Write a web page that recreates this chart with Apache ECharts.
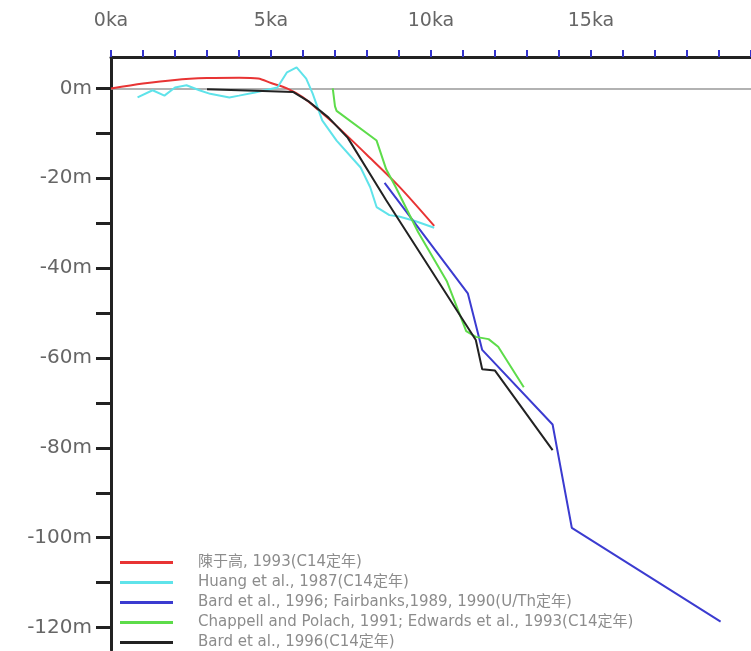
<!DOCTYPE html>
<html>
<head>
<meta charset="utf-8">
<script src="https://cdn.jsdelivr.net/npm/echarts@6/dist/echarts.min.js"></script>
<style>
  html, body { margin: 0; padding: 0; background: #fff; }
  #chart { width: 751px; height: 651px; }
</style>
</head>
<body>
<div id="chart"></div>
<script>
// 海平面变化曲线 (ka, m)
var seriesNames = [
  "陳于高, 1993(C14定年)",
  "Huang et al., 1987(C14定年)",
  "Bard et al., 1996; Fairbanks,1989, 1990(U/Th定年)",
  "Chappell and Polach, 1991; Edwards et al., 1993(C14定年)",
  "Bard et al., 1996(C14定年)"
];
var seriesColors = ["#e83434", "#5fe3ea", "#3b3bd0", "#5ddc4a", "#222222"];

var chenData = [[0, 0], [1, 1.1], [2, 1.9], [3, 2.3], [4, 2.4], [4.6, 2.2], [5, 1.2],
  [5.5, 0], [6, -2], [6.5, -4.9], [7, -8], [8, -14.8], [9, -21.8], [10.1, -30.6]];
var huangData = [[0.83, -2], [1.3, -0.4], [1.67, -1.6], [2.0, 0.2], [2.36, 0.7], [2.76, -0.4],
  [3.1, -1.2], [3.7, -2], [4.0, -1.6], [4.5, -0.9], [5.2, 0.2], [5.5, 3.6], [5.8, 4.7],
  [6.1, 2.2], [6.3, -1.1], [6.6, -7.1], [7.05, -11.6], [7.8, -17.6], [8.1, -22], [8.3, -26.4],
  [8.7, -28.2], [9.0, -28.5], [9.5, -29.5], [10.1, -31]];
var bardUThData = [[8.55, -21], [11.15, -45.6], [11.6, -58.2], [13.8, -74.8], [14.4, -97.8], [19.05, -118.7]];
var chappellData = [[6.93, 0], [7.0, -4], [7.05, -5], [8.3, -11.6], [8.6, -18], [8.9, -22],
  [9.6, -32], [10.5, -43], [11.1, -54], [11.4, -55.3], [11.8, -55.8], [12.1, -57.5], [12.9, -66.5]];
var bardC14Data = [[3.0, -0.2], [4.5, -0.5], [5.7, -0.8], [6.2, -3], [6.8, -6.5], [7.4, -11],
  [8.6, -24.9], [10, -40.4], [11.4, -56], [11.6, -62.5], [12.0, -62.8], [13.8, -80.5]];

var xTickValues = [0, 1, 2, 3, 4, 5, 6, 7, 8, 9, 10, 11, 12, 13, 14, 15, 16, 17, 18, 19, 20];
var xLabelValues = [0, 5, 10, 15];
var yTickValues = [0, -10, -20, -30, -40, -50, -60, -70, -80, -90, -100, -110, -120];
var yLabelValues = [0, -20, -40, -60, -80, -100, -120];

var allData = [chenData, huangData, bardUThData, chappellData, bardC14Data];

var chart = echarts.init(document.getElementById("chart"));

var font = "DejaVu Sans, Noto Sans CJK TC, sans-serif";

var option = {
  animation: false,
  backgroundColor: "#fff",
  grid: { left: 111, right: 0, top: 57, bottom: 1 },
  legend: {
    orient: "vertical",
    left: 120,
    bottom: 0,
    padding: 0,
    icon: "path://M0,0H53V3H0Z",
    itemWidth: 53,
    itemHeight: 3,
    itemGap: 3,
    data: seriesNames,
    textStyle: { fontFamily: font, fontSize: 15, lineHeight: 17, color: "#8c8c8c", padding: [0, 0, 0, 20] }
  },
  xAxis: {
    type: "value",
    position: "top",
    min: 0,
    max: 20,
    splitLine: { show: false },
    axisLine: { onZero: false, lineStyle: { color: "#222", width: 3 } },
    axisTick: { customValues: xTickValues, length: 7, lineStyle: { color: "#3333cc", width: 2 } },
    axisLabel: {
      customValues: xLabelValues,
      margin: 26,
      fontFamily: font,
      fontSize: 19,
      color: "#666",
      formatter: function (v) { return v + "ka"; }
    }
  },
  yAxis: {
    type: "value",
    min: -125,
    max: 7,
    splitLine: { show: false },
    axisLine: { onZero: false, lineStyle: { color: "#222", width: 3 } },
    axisTick: { customValues: yTickValues, length: 15, lineStyle: { color: "#222", width: 3 } },
    axisLabel: {
      customValues: yLabelValues,
      margin: 19,
      fontFamily: font,
      fontSize: 20,
      color: "#666",
      formatter: function (v) { return v + "m"; }
    }
  },
  series: allData.map(function (d, i) {
    var s = {
      name: seriesNames[i],
      type: "line",
      data: d,
      symbol: "none",
      smooth: i === 0 ? 0.3 : false,
      lineStyle: { color: seriesColors[i], width: 2 },
      itemStyle: { color: seriesColors[i] },
      z: 3
    };
    if (i === 0) {
      s.markLine = {
        silent: true,
        symbol: "none",
        label: { show: false },
        lineStyle: { color: "#999", width: 1.5, type: "solid" },
        data: [{ yAxis: 0 }],
        z: 1
      };
    }
    return s;
  })
};

chart.setOption(option);
</script>
</body>
</html>
